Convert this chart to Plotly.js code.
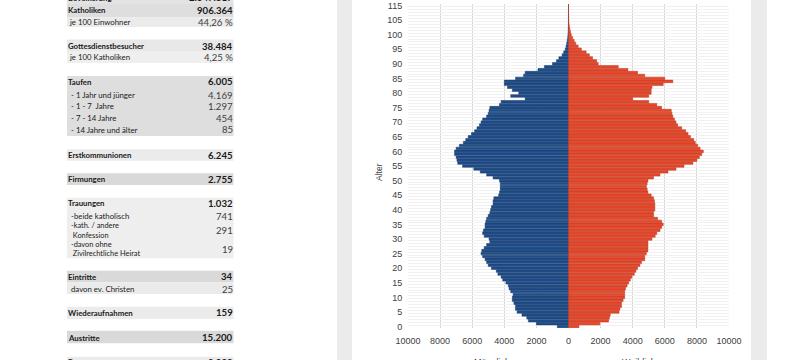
<!DOCTYPE html>
<html><head><meta charset="utf-8">
<script src="https://cdn.plot.ly/plotly-3.0.1.min.js"></script>
<style>html,body{margin:0;padding:0;background:#fff;overflow:hidden}#chart{width:800px;height:360px}</style>
</head><body><div id="chart"></div>
<script>
// ---------- DATA ----------
const ages = [0,1,2,3,4,5,6,7,8,9,10,11,12,13,14,15,16,17,18,19,20,21,22,23,24,25,26,27,28,29,
  30,31,32,33,34,35,36,37,38,39,40,41,42,43,44,45,46,47,48,49,50,51,52,53,54,55,56,57,58,59,
  60,61,62,63,64,65,66,67,68,69,70,71,72,73,74,75,76,77,78,79,80,81,82,83,84,85,86,87,88,89,
  90,91,92,93,94,95,96,97,98,99,100,101,102,103,104,105,106,107,108,109,115];
const male = [700,2000,2500,2600,2900,3200,3300,3300,3400,3500,
  3500,3450,3600,3700,3750,3900,4100,4200,4400,4500,
  4800,5000,5100,5200,5350,5450,5400,5250,5100,4900,
  4950,5250,5350,5300,5200,5200,5150,5100,5000,4900,
  4850,4800,4700,4700,4650,4350,4300,4250,4250,4250,
  4300,4700,5100,5500,5900,6600,6900,6950,7000,7100,
  7100,7000,6800,6550,6400,6250,6050,5850,5700,5550,
  5450,5350,5100,5000,4950,4900,4300,4200,2700,3600,
  3100,3500,3800,4000,4000,3300,2800,2700,1900,1500,
  1000,750,600,400,300,200,150,110,80,50,
  35,25,15,10,7,5,3,2,2,1,1];
const female = [650,1950,2500,2550,2600,3150,3200,3300,3300,3400,
  3500,3500,3500,3550,3650,3750,3850,3950,4100,4200,
  4300,4450,4550,4750,4750,4850,4950,4950,4950,4950,
  5200,5400,5500,5700,5800,5900,5800,5550,5300,5300,
  5380,5380,5380,5350,5300,5150,4950,4900,4850,4900,
  4950,5300,5700,6200,6700,7200,7750,8000,8150,8300,
  8400,8200,8050,7900,7800,7600,7450,7300,7050,6800,
  6700,6600,6500,6450,6400,5800,5500,5000,4000,5000,
  5150,5150,5200,5900,6500,6000,4750,4300,3700,3100,
  1850,1750,1500,1300,1100,800,600,450,350,250,
  170,120,80,50,30,20,12,8,5,3,2];
const xTickValues = [-10000,-8000,-6000,-4000,-2000,0,2000,4000,6000,8000,10000];
const xTickLabels = ['10000','8000','6000','4000','2000','0','2000','4000','6000','8000','10000'];
const sideLabels = ['Männlich','Weiblich'];
const yAxisLabel = 'Alter';

const tableLabels = ['Bevölkerung','Katholiken','je 100 Einwohner','Gottesdienstbesucher','je 100 Katholiken',
  'Taufen',' - 1 Jahr und jünger',' - 1 - 7  Jahre',' - 7 - 14 Jahre',' - 14 Jahre und älter',
  'Erstkommunionen','Firmungen','Trauungen',' -beide katholisch',' -kath. / andere|  Konfession',
  ' -davon ohne|  Zivilrechtliche Heirat','Eintritte',' davon ev. Christen','Wiederaufnahmen','Austritte','Bestattungen'];
const tableValues = ['2.047.817','906.364','44,26 %','38.484','4,25 %','6.005','4.169','1.297','454','85',
  '6.245','2.755','1.032','741','291','19','34','25','159','15.200','9.000'];

// ---------- LAYOUT GEOMETRY ----------
const X0 = 408, PW = 321, Y0 = 4, PH = 324;
const px = x => (x - X0) / PW;
const py = y => (Y0 + PH - y) / PH;

const rowY = [-2,10.5,22,46,57.5,82,95,106.5,118,129.5,155,179.3,203.3,216,230.3,249,276.7,289,312.7,337.5,362];
const rowBold = [1,1,0,1,0,1,0,0,0,0,1,1,1,0,0,0,1,0,1,1,1];
const bands = [[-10,4,'#e3e3e3'],[4,17.5,'#dedede'],[17.5,27,'#ebebeb'],[39.5,51.7,'#e8e8e8'],[51.7,63,'#efefef'],
  [76,136,'#dedede'],[149.3,160.7,'#ebebeb'],[173.3,185,'#d9d9d9'],[197.7,258.3,'#eeeeee'],
  [270.7,282.3,'#d9d9d9'],[282.3,294,'#ebebeb'],[306.7,319,'#ebebeb'],[330.7,343.3,'#d9d9d9'],[356.7,372,'#ebebeb']];

const shapes = [];
const annotations = [];
[[337,352],[751,767]].forEach(([a,b]) => shapes.push({type:'rect',xref:'paper',yref:'paper',x0:px(a),x1:px(b),y0:py(0),y1:py(360),fillcolor:'#ebebeb',line:{width:0},layer:'below'}));
bands.forEach(([a,b,c]) => shapes.push({type:'rect',xref:'paper',yref:'paper',x0:px(67),x1:px(233.5),y0:py(a),y1:py(b),fillcolor:c,line:{width:0},layer:'below'}));

const labFont = 'Lato, "Open Sans", sans-serif';
tableLabels.forEach((lab, i) => {
  const lines = lab.split('|');
  const bold = rowBold[i] === 1;
  const fs = lines.length > 1 ? 7.4 : 7.8;
  lines.forEach((ln, k) => {
    const yy = rowY[i] + (k - (lines.length - 1) / 2) * 9.4;
    annotations.push({xref:'paper',yref:'paper',x:px(bold?67:68),y:py(yy),xanchor:'left',yanchor:'middle',showarrow:false,
      borderpad:0,text: bold ? '<b>'+ln+'</b>' : ln, font:{family:labFont,size:fs,color:'#1a1a1a'}});
  });
  annotations.push({xref:'paper',yref:'paper',x:px(234.5),y:py(rowY[i]),xanchor:'right',yanchor:'middle',showarrow:false,
    text: bold ? '<b>'+tableValues[i]+'</b>' : tableValues[i], font:{family:labFont,size:9.6,color: bold ? '#1a1a1a' : '#404040'}});
});

annotations.push({xref:'paper',yref:'paper',x:px(372),y:py(172),textangle:-90,showarrow:false,text:yAxisLabel,
  font:{family:'"Liberation Sans", Arial, sans-serif',size:8.5,color:'#404040'}});
annotations.push({xref:'paper',yref:'paper',x:px(472),y:py(355),yanchor:'top',showarrow:false,text:sideLabels[0],
  font:{family:'"Liberation Sans", Arial, sans-serif',size:9,color:'#404040'}});
annotations.push({xref:'paper',yref:'paper',x:px(658),y:py(355),yanchor:'top',showarrow:false,text:sideLabels[1],
  font:{family:'"Liberation Sans", Arial, sans-serif',size:9,color:'#404040'}});

const cats = ages.map(String);
const tickCats = cats.filter((c, i) => i % 5 === 0);

const traces = [
  {type:'scatter',x:[],y:[],yaxis:'y2',showlegend:false,hoverinfo:'skip'},
  {type:'bar',orientation:'h',name:'Männlich',y:cats,x:male.map(v => -v),
   marker:{color:'#1f4d8a',line:{color:'#173b6b',width:0.5}},showlegend:false},
  {type:'bar',orientation:'h',name:'Weiblich',y:cats,x:female,
   marker:{color:'#e8472b',line:{color:'#b8391f',width:0.5}},showlegend:false}
];

const tickFont = {family:'"Liberation Sans", Arial, sans-serif',size:9,color:'#404040'};
const layout = {
  width:800,height:360,
  margin:{l:X0,r:800-X0-PW,t:Y0,b:360-Y0-PH,pad:0},
  paper_bgcolor:'#ffffff',plot_bgcolor:'#ffffff',
  barmode:'relative',bargap:0.12,
  showlegend:false,
  font:tickFont,
  xaxis:{range:[-10000,10000],tickmode:'array',tickvals:xTickValues,ticktext:xTickLabels,
    showgrid:true,gridcolor:'#d6d6d6',gridwidth:1,zeroline:false,showline:false,
    ticks:'outside',ticklen:4,tickcolor:'rgba(0,0,0,0)',tickfont:tickFont,fixedrange:true},
  yaxis:{type:'category',categoryorder:'array',categoryarray:cats,range:[-0.5,cats.length-0.5],
    tickmode:'array',tickvals:tickCats,ticktext:tickCats,showgrid:false,zeroline:false,showline:false,
    ticks:'outside',ticklen:3,tickcolor:'rgba(0,0,0,0)',tickfont:tickFont,fixedrange:true},
  yaxis2:{overlaying:'y',range:[-0.5,cats.length-0.5],dtick:1,tick0:-0.5,showgrid:true,gridcolor:'#f1f1f1',
    showticklabels:false,zeroline:false,showline:false,ticks:'',fixedrange:true},
  shapes:shapes,
  annotations:annotations
};
Plotly.newPlot('chart', traces, layout, {staticPlot:true,displayModeBar:false});
</script>
</body></html>
